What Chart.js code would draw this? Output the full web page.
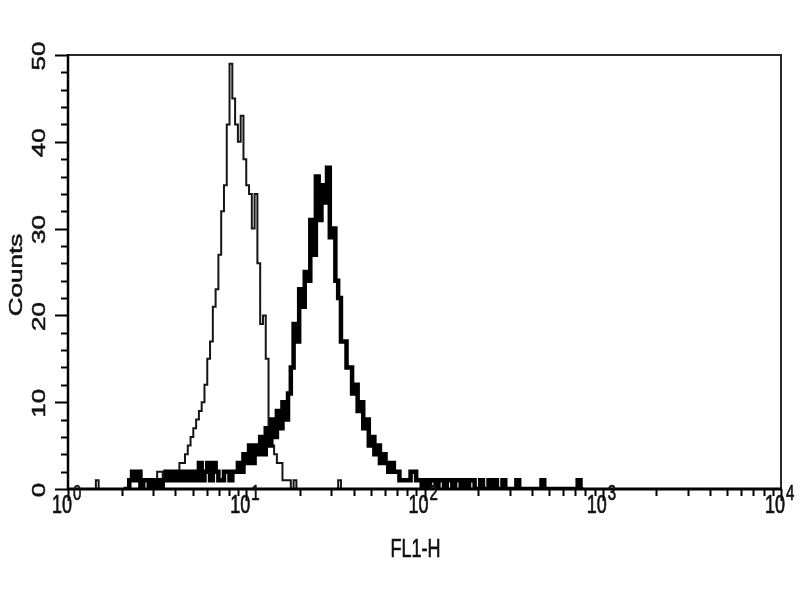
<!DOCTYPE html>
<html>
<head>
<meta charset="utf-8">
<script src="https://cdn.jsdelivr.net/npm/chart.js@4/dist/chart.umd.min.js"></script>
<style>
  html, body { margin: 0; padding: 0; background: #ffffff; }
  #wrap { width: 800px; height: 600px; }
</style>
</head>
<body>
<div id="wrap"><canvas id="c" width="800" height="600"></canvas></div>
<script>
// ---------- data ----------
const channelsPerDecade = 64;          // 256 channels over 4 decades
const xTickExponents = [0, 1, 2, 3, 4]; // tick labels 10^0 ... 10^4
const yTickLabels = [0, 10, 20, 30, 40, 50];
const xAxisTitle = 'FL1-H';
const yAxisTitle = 'Counts';

// control (thin line): counts for channels starting at thinStart
const thinStart = 8;
const thinCounts = [
  0, 0, 1, 0, 0, 0, 0, 0, 0, 0,            // 8-17
  0, 0, 0, 0, 0, 0, 0, 0, 0, 0,            // 18-27
  0, 0, 1, 1, 2, 2, 1, 2, 2, 1,            // 28-37
  2, 2, 3, 3, 4, 5, 6, 7, 8, 9,            // 38-47
  10, 12, 15, 17, 21, 23, 27, 32, 35, 42,  // 48-57
  49, 45, 42, 40, 43, 38, 35, 34, 30, 34,  // 58-67
  26, 19, 20, 15, 6, 5, 4, 3, 3, 1,        // 68-77
  1, 1, 0, 1, 0, 0, 0, 0, 0, 0,            // 78-87
  0, 0, 0, 0, 0, 0, 0, 0, 0, 1,            // 88-97
  0                                        // 98
];

// stained sample (thick line): counts for channels starting at thickStart
const thickStart = 20;
const thickCounts = [
  0, 0, 1, 2, 1, 2, 0, 1, 1, 0,            // 20-29
  1, 0, 1, 0, 1, 2, 1, 2, 1, 2,            // 30-39
  1, 2, 1, 2, 1, 2, 1, 3, 1, 2,            // 40-49
  3, 1, 3, 2, 1, 1, 2, 2, 1, 2,            // 50-59
  2, 3, 2, 4, 3, 5, 3, 5, 4, 6,            // 60-69
  4, 7, 5, 8, 6, 9, 7, 10, 8, 11,          // 70-79
  14, 19, 17, 23, 21, 25, 24, 31, 27, 36,  // 80-89
  31, 35, 33, 37, 29, 30, 24, 22, 17, 17,  // 90-99
  14, 14, 11, 12, 9, 10, 7, 8, 5, 6,       // 100-109
  4, 5, 3, 4, 3, 2, 3, 2, 2, 1,            // 110-119
  1, 1, 1, 2, 2, 1, 1, 0, 1, 0,            // 120-129
  1, 1, 0, 1, 1, 0, 1, 1, 0, 1,            // 130-139
  1, 0, 1, 0, 1, 1, 0, 0, 1, 0,            // 140-149
  0, 1, 0, 1, 0, 0, 1, 0, 0, 0,            // 150-159
  0, 1, 0, 0, 0, 0, 0, 0, 0, 0,            // 160-169
  1, 0, 0, 0, 0, 0, 0, 0, 0, 0,            // 170-179
  0, 0, 0, 1, 0                            // 180-184
];

// ---------- build points: channel -> FL1-H value on the log axis ----------
function toPoints(start, counts) {
  const pts = [];
  for (let i = 0; i < counts.length; i++) {
    pts.push({ x: Math.pow(10, (start + i) / channelsPerDecade), y: counts[i] });
  }
  pts.push({ x: Math.pow(10, (start + counts.length) / channelsPerDecade), y: 0 });
  return pts;
}

const FONT = '"Liberation Sans", Arial, Helvetica, sans-serif';
const STRETCH = 1.45;

function paintText(ctx, text) {
  ctx.fillText(text, 0, 0);
  ctx.lineWidth = 0.5;
  ctx.strokeStyle = '#111';
  ctx.strokeText(text, 0, 0);
}

function stretchedText(ctx, text, x, y, size, align, sy) {
  ctx.save();
  ctx.font = size + 'px ' + FONT;
  ctx.textAlign = align;
  ctx.textBaseline = 'alphabetic';
  ctx.translate(x, y);
  ctx.scale(1, sy);
  paintText(ctx, text);
  ctx.restore();
}

function rotatedText(ctx, text, x, y, size, sx) {
  ctx.save();
  ctx.font = size + 'px ' + FONT;
  ctx.textAlign = 'center';
  ctx.textBaseline = 'alphabetic';
  ctx.translate(x, y);
  ctx.rotate(-Math.PI / 2);
  ctx.scale(sx, 1);
  paintText(ctx, text);
  ctx.restore();
}

const axesPlugin = {
  id: 'facsAxes',
  afterDatasetsDraw(chart) {
    const ctx = chart.ctx;
    const xs = chart.scales.x, ys = chart.scales.y;
    const L = xs.getPixelForValue(1), R = xs.getPixelForValue(10000);
    const B = ys.getPixelForValue(0), T = ys.getPixelForValue(50);
    ctx.save();
    ctx.lineCap = 'butt';
    // frame top / right
    ctx.strokeStyle = '#2a2a2a';
    ctx.lineWidth = 2;
    ctx.beginPath();
    ctx.moveTo(L, T); ctx.lineTo(R, T); ctx.lineTo(R, B);
    ctx.stroke();
    // axis lines
    ctx.strokeStyle = '#000';
    ctx.lineWidth = 2.5;
    ctx.beginPath(); ctx.moveTo(L, T - 1); ctx.lineTo(L, B + 1); ctx.stroke();
    ctx.lineWidth = 3;
    ctx.beginPath(); ctx.moveTo(L - 1, B); ctx.lineTo(R + 1, B); ctx.stroke();

    // y ticks: major every 10, minor every 2
    ctx.lineWidth = 2;
    for (let v = 0; v <= 50; v += 2) {
      const y = Math.round(ys.getPixelForValue(v)) + 0.5;
      const len = (v % 10 === 0) ? 13 : 7;
      ctx.beginPath(); ctx.moveTo(L - len, y); ctx.lineTo(L, y); ctx.stroke();
    }
    // x ticks: decades (major) and 2..9 (minor), pointing down
    for (let e = 0; e <= 4; e++) {
      for (let m = 1; m <= 9; m++) {
        if (e === 4 && m > 1) break;
        const x = Math.round(xs.getPixelForValue(m * Math.pow(10, e))) + 0.5;
        const len = (m === 1) ? 12 : 7;
        ctx.beginPath(); ctx.moveTo(x, B); ctx.lineTo(x, B + len); ctx.stroke();
      }
    }

    ctx.fillStyle = '#111';
    // x tick labels 10^e
    xTickExponents.forEach(e => {
      const x = xs.getPixelForValue(Math.pow(10, e));
      stretchedText(ctx, '10', x + 4, B + 24, 18, 'right', STRETCH);
      stretchedText(ctx, String(e), x + 5, B + 11, 15, 'left', STRETCH);
    });
    // y tick labels (rotated)
    yTickLabels.forEach(v => {
      rotatedText(ctx, String(v), L - 23, ys.getPixelForValue(v) + 1, 18, STRETCH);
    });
    // axis titles
    stretchedText(ctx, xAxisTitle, (L + R) / 2 - 9, B + 68, 18, 'center', STRETCH);
    rotatedText(ctx, yAxisTitle, 22, (T + B) / 2 + 3, 18, STRETCH);
    ctx.restore();
  }
};

new Chart(document.getElementById('c'), {
  type: 'line',
  data: {
    datasets: [
      {
        label: 'Stained',
        data: toPoints(thickStart, thickCounts),
        borderColor: '#000000',
        borderWidth: 4.5,
        stepped: true,
        pointRadius: 0,
        fill: false
      },
      {
        label: 'Control',
        data: toPoints(thinStart, thinCounts),
        borderColor: '#151515',
        borderWidth: 2,
        stepped: true,
        pointRadius: 0,
        fill: false
      }
    ]
  },
  options: {
    responsive: false,
    animation: false,
    devicePixelRatio: 1,
    layout: { padding: { left: 68, right: 19, top: 55, bottom: 111 } },
    plugins: { legend: { display: false }, tooltip: { enabled: false }, title: { display: false } },
    scales: {
      x: { type: 'logarithmic', min: 1, max: 10000, display: false },
      y: { type: 'linear', min: 0, max: 50, display: false }
    }
  },
  plugins: [axesPlugin]
});
</script>
</body>
</html>
